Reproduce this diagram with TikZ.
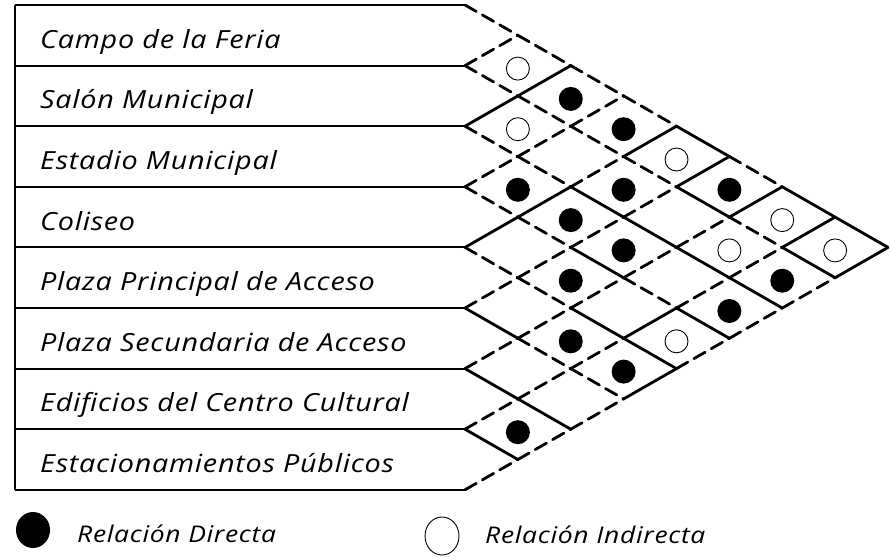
\documentclass[tikz,border=0pt]{standalone}
\usepackage{fontspec}
\setmainfont{Open Sans}
\newfontfamily\hand{Open Sans}[FakeStretch=1.15, LetterSpace=3]
\usetikzlibrary{calc}

\tikzset{
  seg/.style={line width=2.8pt, line cap=round},
  segS/.style={seg},
  segD/.style={seg, dash pattern=on 13pt off 7pt},
  rowlabel/.style={anchor=base west, inner sep=0pt, font=\hand\itshape\fontsize{25}{28}\selectfont},
  keylabel/.style={anchor=base west, inner sep=0pt, font=\hand\itshape\fontsize{23}{26}\selectfont},
  direct/.style={fill=black},
  indirect/.style={draw=black, line width=0.9pt},
}

\begin{document}
\begin{tikzpicture}[x=1pt, y=-1pt]
    \useasboundingbox (0,0) rectangle (890,557);
    \def\gx{465}
    \def\gw{52.875}
    \def\gh{30.3}

    % Lattice of the relation grid
    \foreach \m in {0,...,8}
      \foreach \n in {0,...,16}
        \coordinate (g\m-\n) at ({\gx+\m*\gw}, {5+\n*\gh});

    % Row boxes
    \draw[line width=1.6pt] (15,5) -- (15,{5+16*\gh});
    \foreach \k [evaluate=\k as \n using int(2*\k)] in {0,...,8}
      \draw[line width=2pt] (15,{5+\n*\gh}) -- (g0-\n);

    % Diagonals down to the right (line, segment, style)
    \foreach \k/\m/\st in {0/0/D,0/1/D,0/2/D,0/3/D,0/4/S,0/5/D,0/6/S,0/7/S,
                           1/0/D,1/1/D,1/2/D,1/3/D,1/4/S,1/5/D,1/6/S,
                           2/0/D,2/1/D,2/2/S,2/3/S,2/4/S,2/5/S,
                           3/0/D,3/1/D,3/2/S,3/3/D,3/4/S,
                           4/0/D,4/1/D,4/2/S,4/3/S,
                           5/0/S,5/1/D,5/2/D,
                           6/0/S,6/1/S,
                           7/0/S} {
      \pgfmathtruncatemacro\a{2*\k+\m}
      \pgfmathtruncatemacro\b{\m+1}
      \pgfmathtruncatemacro\c{\a+1}
      \draw[seg\st] (g\m-\a) -- (g\b-\c);
    }

    % Diagonals up to the right
    \foreach \k/\m/\st in {1/0/D,
                           2/0/S,2/1/S,
                           3/0/D,3/1/D,3/2/D,
                           4/0/S,4/1/S,4/2/D,4/3/S,
                           5/0/D,5/1/D,5/2/D,5/3/D,5/4/S,
                           6/0/D,6/1/D,6/2/D,6/3/D,6/4/D,6/5/S,
                           7/0/D,7/1/D,7/2/D,7/3/S,7/4/D,7/5/D,7/6/S,
                           8/0/D,8/1/D,8/2/D,8/3/S,8/4/D,8/5/D,8/6/D,8/7/S} {
      \pgfmathtruncatemacro\a{2*\k-\m}
      \pgfmathtruncatemacro\b{\m+1}
      \pgfmathtruncatemacro\c{\a-1}
      \draw[seg\st] (g\m-\a) -- (g\b-\c);
    }

    % Row labels
    \foreach \i/\txt in {1/Campo de la Feria, 2/Salón Municipal, 3/Estadio Municipal,
                         4/Coliseo, 5/Plaza Principal de Acceso, 6/Plaza Secundaria de Acceso,
                         7/Edificios del Centro Cultural, 8/Estacionamientos Públicos}
      \node[rowlabel] (r\i) at (40, {5+(2*\i-1)*\gh+13}) {\txt};

    % Relations
    \foreach \m/\n in {2/3,3/4,1/6,3/6,5/6,2/7,3/8,2/9,6/9,5/10,2/11,3/12,1/14}
      \fill[direct] (g\m-\n) ++(0,3) circle (12);
    \foreach \m/\n in {1/2,1/4,4/5,6/7,5/8,7/8,4/11}
      \draw[indirect] (g\m-\n) ++(0,3) circle (11.5);

    % Legend
    \fill[direct] (33,530) ellipse [x radius=17, y radius=18];
    \node[keylabel] (kd) at (77,542) {Relación Directa};
    \draw[indirect] (442,536) ellipse [x radius=17, y radius=19];
    \node[keylabel] (ki) at (485,543) {Relación Indirecta};
\end{tikzpicture}
\end{document}
